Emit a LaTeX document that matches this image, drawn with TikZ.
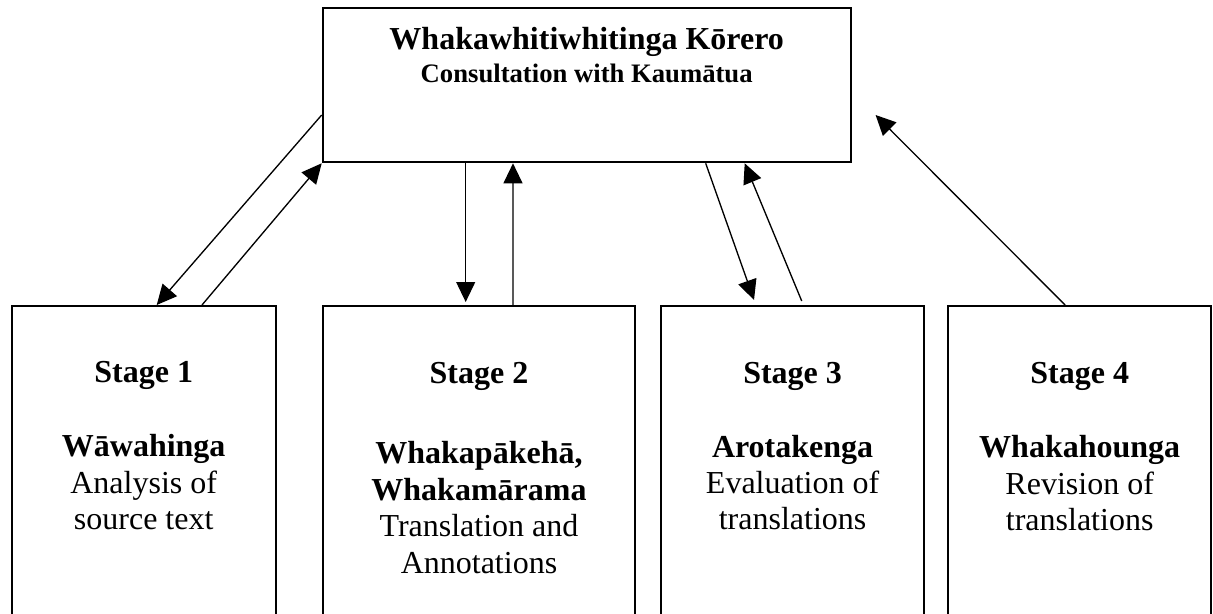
\documentclass[tikz,border=0pt]{standalone}
\usepackage{fontspec}
\setmainfont{Liberation Serif}
\usetikzlibrary{arrows.meta,calc}
\tikzset{
  boxshape/.style={draw=black, line width=0.75pt, rectangle, inner sep=0pt, fill=none},
  topbox/.style={boxshape, minimum width=198pt, minimum height=57.75pt},
  stagebox/.style={boxshape, minimum height=147.75pt},
  txt/.style={inner sep=0pt, anchor=base, font=\fontsize{12}{13.8}\selectfont},
  btxt/.style={txt, font=\fontsize{12}{13.8}\selectfont\bfseries},
  stxt/.style={inner sep=0pt, anchor=base, font=\fontsize{10}{11.5}\selectfont\bfseries},
  arr/.style={line width=0.5pt, -{Triangle[length=7.5pt, width=7.1pt]}}
}
\begin{document}
\begin{tikzpicture}[x=0.375pt, y=-0.375pt]
\clip (0,0) rectangle (1213,614);
\fill[white] (0,0) rectangle (1213,614);
% boxes
\node[topbox] (top) at (586.7,85.3) {};
\node[stagebox, minimum width=99pt] (s1) at (143.7,503) {};
\node[stagebox, minimum width=117pt] (s2) at (479,503) {};
\node[stagebox, minimum width=98.9pt] (s3) at (792.6,503) {};
\node[stagebox, minimum width=98.5pt] (s4) at (1079.7,503) {};
% top text
\node[btxt] (t1) at (586.7,49) {Whakawhitiwhitinga Kōrero};
\node[stxt] (t2) at (586.7,82) {Consultation with Kaumātua};
% stage 1
\node[btxt] (a1) at (143.7,382) {Stage 1};
\node[btxt] (a2) at (143.7,456) {Wāwahinga};
\node[txt] (a3) at (143.7,493) {Analysis of};
\node[txt] (a4) at (143.7,529) {source text};
% stage 2
\node[btxt] (b1) at (479,383) {Stage 2};
\node[btxt] (b2) at (479,463) {Whakapākehā,};
\node[btxt] (b3) at (479,500) {Whakamārama};
\node[txt] (b4) at (479,536.5) {Translation and};
\node[txt] (b5) at (479,573) {Annotations};
% stage 3
\node[btxt] (c1) at (792.6,383) {Stage 3};
\node[btxt] (c2) at (792.6,457) {Arotakenga};
\node[txt] (c3) at (792.6,493) {Evaluation of};
\node[txt] (c4) at (792.6,529) {translations};
% stage 4
\node[btxt] (d1) at (1079.7,383) {Stage 4};
\node[btxt] (d2) at (1079.7,457) {Whakahounga};
\node[txt] (d3) at (1079.7,494) {Revision of};
\node[txt] (d4) at (1079.7,530.5) {translations};
% arrows
\draw[arr] ($(top.west)+(0,29.7)$) -- ($(s1.north)+(13,0)$);
\draw[arr] ($(s1.north)+(58.3,0)$) -- (top.south west);
\draw[arr] ($(top.south west)+(144,0)$) -- ($(s2.north west)+(143.7,-3)$);
\draw[arr] ($(s2.north west)+(191,0)$) -- ($(top.south west)+(191.3,0)$);
\draw[arr] ($(top.south west)+(384,0)$) -- ($(s3.north west)+(94.3,-5)$);
\draw[arr] ($(s3.north west)+(142,-4)$) -- ($(top.south west)+(423,0)$);
\coordinate (c7) at (875.6,115);
\draw[arr] ($(s4.north west)+(117.7,0)$) -- (c7);
\end{tikzpicture}
\end{document}
